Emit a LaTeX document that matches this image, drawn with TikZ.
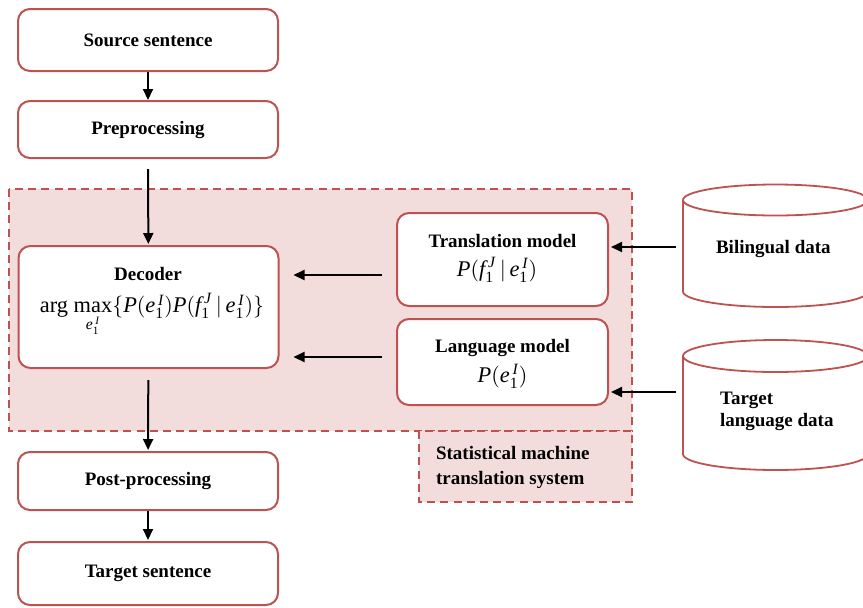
\documentclass[tikz,border=0pt]{standalone}
\usepackage{amsmath}
\usepackage{fontspec}
\setmainfont{Liberation Serif}
\usetikzlibrary{arrows.meta}

% model variables with sub- and superscripts, e.g. e_1^I
\newcommand\sx[3]{\textit{#1}_{\textrm{#2}}^{\,\textit{#3}}}

\definecolor{rose}{RGB}{190,82,80}
\definecolor{blush}{RGB}{242,221,220}

\tikzset{
  every node/.style={font=\fontsize{9.5}{11.5}\selectfont\bfseries},
  stagebox/.style={draw=rose, line width=1pt, fill=white, rounded corners=6pt,
    inner sep=0pt, minimum width=130pt},
  region/.style={draw=rose, line width=1pt, fill=blush, dash pattern=on 4pt off 2.6pt},
  cyl/.style={draw=rose, line width=0.9pt},
  flow/.style={line width=1pt, -{Triangle[length=5.5pt,width=5pt]}},
  formula/.style={font=\fontsize{11.2}{13}\selectfont},
}

\begin{document}
\begin{tikzpicture}[x=0.5pt, y=-0.5pt]
  \useasboundingbox (0,0) rectangle (863,607);
  \clip (0,0) rectangle (863,607);
  \fill[white] (0,0) rectangle (863,607);

  % system region with its caption box
  \draw[region] (9,189) rectangle (632,431);
  \draw[region] (419,431) rectangle (632,502);
  \node[anchor=west, align=left, font=\fontsize{9.5}{12.5}\selectfont\bfseries]
    (smtlabel) at (429,467) {Statistical machine\\translation system};

  % processing chain
  \node[stagebox, minimum height=31pt] (src)  at (148,40)    {Source sentence};
  \node[stagebox, minimum height=28.5pt] (pre) at (148,129.5) {Preprocessing};
  \node[stagebox, minimum height=61pt] (dec)  at (148.5,307) {};
  \node (dectitle) at (148,274) {Decoder};
  \node[formula] (decform) at (152,315)
    {arg $\mathop{\textrm{max}}\limits_{\sx{e}{1}{I}}\{\textit{P}(\sx{e}{1}{I})\textit{P}(\sx{f}{1}{J}\,|\,\sx{e}{1}{I})\}$};
  \node[stagebox, minimum height=29pt] (post) at (148,481)   {Post-processing};
  \node[stagebox, minimum height=31.5pt] (tgt) at (148,573.5) {Target sentence};

  % models
  \node[stagebox, minimum width=105.5pt, minimum height=46.5pt] (tm) at (502.5,259.5) {};
  \node (tmtitle) at (502.5,241) {Translation model};
  \node[formula] (tmform) at (497,270) {$\textit{P}(\sx{f}{1}{J}\,|\,\sx{e}{1}{I})$};
  \node[stagebox, minimum width=105.5pt, minimum height=43pt] (lm) at (502.5,362) {};
  \node (lmtitle) at (502.5,348) {Language model};
  \node[formula] (lmform) at (502.5,376) {$\textit{P}(\sx{e}{1}{I})$};

  % data stores
  \draw[cyl, fill=white] (683,200) -- (683,291.5)
    -- plot[domain=180:360, samples=60] ({775.5+92.5*cos(\x)}, {291.5-15.5*sin(\x)})
    -- (868,200);
  \draw[cyl] (775.5,200) ellipse[x radius=92.5, y radius=15.5];
  \node[anchor=west] (bil) at (709,249) {Bilingual data};
  \coordinate (bilside) at (683,247);

  \draw[cyl, fill=white] (683,356) -- (683,454)
    -- plot[domain=180:360, samples=60] ({775.5+92.5*cos(\x)}, {454-16*sin(\x)})
    -- (868,356);
  \draw[cyl] (775.5,356) ellipse[x radius=92.5, y radius=16];
  \node[anchor=west, align=left, font=\fontsize{9.5}{11}\selectfont\bfseries]
    (tld) at (713,411) {Target\\language data};
  \coordinate (tldside) at (683,392);

  % connectors
  \coordinate (tmrow) at (0,275);
  \coordinate (lmrow) at (0,357);
  \draw[flow] (src) -- (pre);
  \draw[flow, shorten <=5pt, shorten >=0.5pt] (pre) -- (dec);
  \draw[flow, shorten <=7pt, shorten >=7pt] (tm.west |- tmrow) -- (dec.east |- tmrow);
  \draw[flow, shorten <=7pt, shorten >=7pt] (lm.west |- lmrow) -- (dec.east |- lmrow);
  \draw[flow, shorten <=3.5pt, shorten >=1pt] (bilside) -- (tm.east |- bilside);
  \draw[flow, shorten <=3.5pt, shorten >=1pt] (tldside) -- (lm.east |- tldside);
  \draw[flow, shorten <=5.5pt, shorten >=0.5pt] (dec) -- (post);
  \draw[flow, shorten >=0.5pt] (post) -- (tgt);
\end{tikzpicture}
\end{document}
